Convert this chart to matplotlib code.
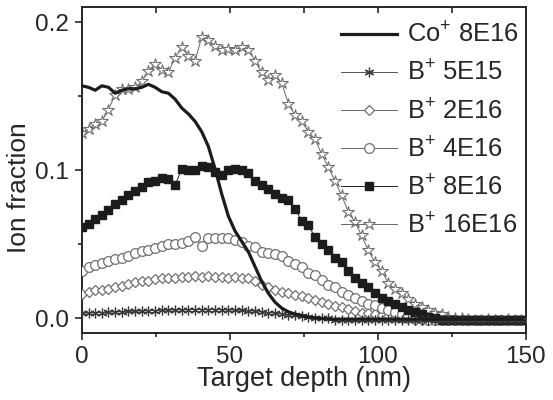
import numpy as np
import matplotlib
matplotlib.use("Agg")
import matplotlib.pyplot as plt
from matplotlib.ticker import MultipleLocator

plt.rcParams["font.family"] = ["Liberation Sans", "DejaVu Sans"]
plt.rcParams["mathtext.fontset"] = "custom"
plt.rcParams["mathtext.rm"] = "Liberation Sans"
plt.rcParams["mathtext.default"] = "regular"

ink = "#262626"

# depth grid (nm)
depth = [0, 2.25, 4.5, 6.75, 9, 11.25, 13.5, 15.75, 18, 20.25,
         22.5, 24.75, 27, 29.25, 31.5, 33.75, 36, 38.25, 40.5, 42.75,
         45, 47.25, 49.5, 51.75, 54, 56.25, 58.5, 60.75, 63, 65.25,
         67.5, 69.75, 72, 74.25, 76.5, 78.75, 81, 83.25, 85.5, 87.75,
         90, 92.25, 94.5, 96.75, 99, 101.25, 103.5, 105.75, 108, 110.25,
         112.5, 114.75, 117, 119.25, 121.5, 123.75, 126, 128.25, 130.5, 132.75,
         135, 137.25, 139.5, 141.75, 144, 146.25, 148.5]

co_8e16 = [0.157, 0.156, 0.154, 0.157, 0.156, 0.152, 0.154, 0.155, 0.155, 0.156,
           0.158, 0.156, 0.153, 0.152, 0.148, 0.142, 0.138, 0.133, 0.126, 0.116,
           0.101, 0.084, 0.069, 0.059, 0.052, 0.045, 0.035, 0.025, 0.017, 0.011,
           0.007, 0.0045, 0.003, 0.002, 0.001, 0.0005, 0.0, -0.0005, -0.0005, -0.0005,
           -0.0005, -0.0005, -0.0005, -0.0005, -0.0005, -0.0005, -0.0005, -0.0005, -0.0005, -0.0005,
           -0.0005, -0.0005, -0.0005, -0.0005, -0.0005, -0.0005, -0.0005, -0.0005, -0.0005, -0.0005,
           -0.0005, -0.0005, -0.0005, -0.0005, -0.0005, -0.0005, -0.0005]

b_5e15 = [0.0035, 0.0037, 0.0038, 0.004, 0.0042, 0.0043, 0.0045, 0.0047, 0.0048, 0.005,
          0.0052, 0.0053, 0.0055, 0.0056, 0.0057, 0.0058, 0.006, 0.006, 0.006, 0.006,
          0.006, 0.0059, 0.0058, 0.0056, 0.0054, 0.0051, 0.0048, 0.0044, 0.004, 0.0035,
          0.003, 0.0025, 0.002, 0.0015, 0.001, 0.0006, 0.0003, 0.0, -0.001, -0.001,
          -0.001, -0.001, -0.001, -0.001, -0.001, -0.001, -0.001, -0.001, -0.001, -0.001,
          -0.001, -0.001, -0.001, -0.001, -0.001, -0.001, -0.001, -0.001, -0.001, -0.001,
          -0.001, -0.001, -0.001, -0.001, -0.001, -0.001, -0.001]

b_2e16 = [0.0165, 0.018, 0.019, 0.0195, 0.020, 0.021, 0.022, 0.023, 0.0245, 0.025,
          0.0255, 0.0265, 0.027, 0.0275, 0.0275, 0.028, 0.028, 0.0285, 0.028, 0.0285,
          0.028, 0.028, 0.0275, 0.028, 0.027, 0.027, 0.025, 0.0225, 0.021, 0.019,
          0.018, 0.017, 0.0155, 0.015, 0.014, 0.0125, 0.011, 0.0095, 0.0085, 0.0075,
          0.0065, 0.005, 0.004, 0.0035, 0.003, 0.002, 0.0015, 0.001, 0.0005, 0.0,
          -0.001, -0.001, -0.001, -0.001, -0.001, -0.001, -0.001, -0.001, -0.001, -0.001,
          -0.001, -0.001, -0.001, -0.001, -0.001, -0.001, -0.001]

b_4e16 = [0.032, 0.0345, 0.036, 0.0375, 0.039, 0.040, 0.041, 0.042, 0.044, 0.0455,
          0.0465, 0.0475, 0.049, 0.050, 0.0505, 0.051, 0.052, 0.055, 0.049, 0.054,
          0.054, 0.054, 0.054, 0.053, 0.0515, 0.049, 0.048, 0.045, 0.044, 0.0435,
          0.042, 0.039, 0.037, 0.035, 0.031, 0.029, 0.026, 0.0225, 0.021, 0.018,
          0.016, 0.0135, 0.012, 0.010, 0.009, 0.007, 0.0055, 0.0045, 0.003, 0.002,
          0.001, 0.0, -0.001, -0.001, -0.001, -0.001, -0.001, -0.001, -0.001, -0.001,
          -0.001, -0.001, -0.001, -0.001, -0.001, -0.001, -0.001]

b_8e16 = [0.062, 0.064, 0.067, 0.070, 0.073, 0.077, 0.080, 0.083, 0.086, 0.089,
          0.092, 0.093, 0.0945, 0.094, 0.090, 0.101, 0.100, 0.100, 0.103, 0.102,
          0.099, 0.0965, 0.100, 0.101, 0.100, 0.098, 0.093, 0.090, 0.0875, 0.084,
          0.081, 0.0797, 0.074, 0.066, 0.063, 0.055, 0.0505, 0.046, 0.041, 0.038,
          0.032, 0.027, 0.024, 0.021, 0.0175, 0.014, 0.012, 0.010, 0.008, 0.006,
          0.0045, 0.003, 0.001, 0.0, -0.001, -0.001, -0.001, -0.001, -0.001, -0.001,
          -0.001, -0.001, -0.001, -0.001, -0.001, -0.001, -0.001]

b_16e16 = [0.125, 0.128, 0.131, 0.133, 0.141, 0.151, 0.155, 0.155, 0.156, 0.160,
           0.167, 0.172, 0.168, 0.166, 0.176, 0.183, 0.177, 0.174, 0.190, 0.188,
           0.184, 0.181, 0.182, 0.181, 0.183, 0.181, 0.174, 0.166, 0.161, 0.164,
           0.159, 0.145, 0.137, 0.133, 0.126, 0.121, 0.111, 0.102, 0.093, 0.083,
           0.072, 0.065, 0.056, 0.046, 0.038, 0.032, 0.024, 0.020, 0.017, 0.013,
           0.010, 0.008, 0.006, 0.004, 0.003, 0.001, 0.0005, 0.0, -0.0005, -0.001,
           -0.001, -0.0005, -0.001, -0.001, -0.0005, -0.001, -0.001]

labels = ["Co$^{+}$ 8E16", "B$^{+}$ 5E15", "B$^{+}$ 2E16",
          "B$^{+}$ 4E16", "B$^{+}$ 8E16", "B$^{+}$ 16E16"]

fig = plt.figure(figsize=(5.53, 4.0), dpi=100)
ax = fig.add_axes([0.148, 0.1668, 0.803, 0.815])

ax.plot(depth, co_8e16, color="#1c1c1c", lw=2.3, label=labels[0], zorder=6)
ax.plot(depth, b_5e15, color="#555555", lw=0.7, marker=(6, 2, 0), ms=7,
        mew=0.9, mec="#3a3a3a", label=labels[1], zorder=5)
ax.plot(depth, b_2e16, color="#666666", lw=0.7, marker="D", ms=5.5,
        mfc="white", mec="#707070", mew=0.9, label=labels[2], zorder=3)
ax.plot(depth, b_4e16, color="#666666", lw=0.7, marker="o", ms=7,
        mfc="white", mec="#707070", mew=0.9, label=labels[3], zorder=3)
ax.plot(depth, b_8e16, color="#222222", lw=0.7, marker="s", ms=5.5,
        mfc="#1c1c1c", mec="#1c1c1c", label=labels[4], zorder=4)
ax.plot(depth, b_16e16, color="#666666", lw=0.7, marker="*", ms=9,
        mfc="white", mec="#707070", mew=0.8, label=labels[5], zorder=2)

ax.set_xlim(0, 150)
ax.set_ylim(-0.01, 0.21)
ax.xaxis.set_major_locator(MultipleLocator(50))
ax.xaxis.set_minor_locator(MultipleLocator(25))
ax.yaxis.set_major_locator(MultipleLocator(0.1))
ax.yaxis.set_minor_locator(MultipleLocator(0.05))
ax.tick_params(which="both", direction="out", colors=ink, labelsize=17.5,
               width=1.2, top=False, right=False)
ax.tick_params(which="major", length=5, pad=4)
ax.tick_params(which="minor", length=3)

top = ax.secondary_xaxis("top")
top.set_xticks([25, 50, 75, 100, 125])
top.tick_params(direction="in", length=4, width=1.2, colors=ink, labeltop=False)
top.spines["top"].set_visible(False)

for s in ax.spines.values():
    s.set_linewidth(1.4)
    s.set_color(ink)

ax.set_xlabel("Target depth (nm)", fontsize=19.5, color=ink, labelpad=-1)
ax.set_ylabel("Ion fraction", fontsize=19, color=ink)
ax.yaxis.set_label_coords(-0.115, 0.446)

leg = ax.legend(loc="upper right", frameon=False, fontsize=18.4,
                handlelength=2.2, handletextpad=0.4, labelspacing=0.5,
                borderaxespad=0.2, bbox_to_anchor=(1.018, 1.0))
for t in leg.get_texts():
    t.set_color(ink)

fig.savefig("out.png", dpi=100)
